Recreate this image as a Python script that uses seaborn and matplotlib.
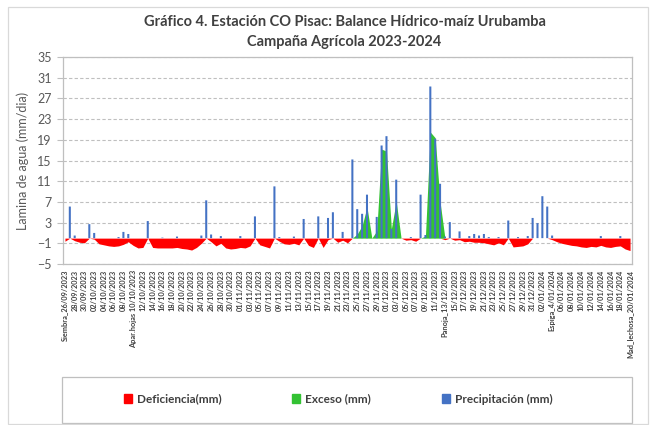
import numpy as np
import pandas as pd
import matplotlib
matplotlib.use("Agg")
import matplotlib.pyplot as plt
import seaborn as sns
from matplotlib.patches import Patch, Rectangle

# daily series 26/09/2023 .. 20/01/2024
dates = pd.date_range("2023-09-26", "2024-01-20", freq="D")

precipitacion = [
    0, 6.1, 0.5, 0, 0, 2.7, 1.0, 0, 0, 0,
    0, 0.2, 1.2, 0.8, 0, 0, 0, 3.3, 0, 0,
    0.1, 0, 0, 0.3, 0, 0, 0, 0, 0.5, 7.3,
    0.7, 0, 0.4, 0, 0, 0, 0.4, 0, 0, 4.2,
    0, 0, 0, 10.0, 0.2, 0, 0, 0.3, 0, 3.7,
    0, 0, 4.2, 0, 3.9, 5.0, 0, 1.2, 0, 15.2,
    5.6, 4.7, 8.4, 0, 4.1, 17.9, 19.7, 1.8, 11.3, 0,
    0, 0.2, 0, 8.4, 0.6, 29.3, 19.2, 10.5, 0.3, 3.1,
    0, 1.3, 0, 0.4, 0.8, 0.5, 0.8, 0.2, 0, 0.2,
    0, 3.4, 0, 0.2, 0, 0.4, 3.9, 2.9, 8.1, 6.1,
    0.5, 0, 0, 0, 0, 0, 0, 0, 0, 0,
    0.4, 0, 0, 0, 0.4, 0, 0,
]

deficiencia = [
    -0.6, 0, -0.5, -0.8, -0.9, 0, -0.2, -1.1, -1.3, -1.5,
    -1.6, -1.5, -1.2, -0.7, -1.4, -1.9, -1.8, 0, -1.8, -1.9,
    -1.9, -1.9, -1.9, -1.8, -2.0, -2.1, -2.3, -1.8, -1.0, 0,
    -0.7, -1.5, -1.0, -1.9, -2.1, -2.0, -1.8, -1.9, -1.5, 0,
    -1.3, -1.6, -1.9, 0, -0.6, -1.1, -1.2, -1.0, -1.3, 0,
    -1.4, -1.8, 0, -1.8, -0.3, 0, -0.8, -0.4, -0.9, 0,
    0, 0, 0, 0, 0, 0, 0, 0, 0, 0,
    -0.4, -0.3, -0.6, 0, 0, 0, 0, 0, -0.3, 0,
    -0.4, -0.3, -0.7, -0.6, -0.8, -0.8, -0.9, -1.1, -1.3, -0.9,
    -1.3, 0, -1.7, -1.6, -1.5, -1.1, 0, 0, 0, 0,
    -0.3, -0.7, -1.0, -1.2, -1.4, -1.5, -1.7, -1.8, -1.6, -1.7,
    -1.4, -1.7, -1.8, -1.6, -1.5, -2.1, -2.4,
]

exceso = [
    0, 0, 0, 0, 0, 0, 0, 0, 0, 0,
    0, 0, 0, 0, 0, 0, 0, 0, 0, 0,
    0, 0, 0, 0, 0, 0, 0, 0, 0, 0,
    0, 0, 0, 0, 0, 0, 0, 0, 0, 0,
    0, 0, 0, 0, 0, 0, 0, 0, 0, 0,
    0, 0, 0, 0, 0, 0, 0, 0, 0, 0,
    0.8, 2.4, 6.0, 0, 1.4, 17.2, 16.8, 1.8, 7.1, 0,
    0, 0, 0, 0, 0.4, 20.5, 19.4, 7.0, 0, 0,
    0, 0, 0, 0, 0, 0, 0, 0, 0, 0,
    0, 0, 0, 0, 0, 0, 0, 0, 0, 0,
    0, 0, 0, 0, 0, 0, 0, 0, 0, 0,
    0, 0, 0, 0, 0, 0, 0,
]

etapas = {
    "2023-09-26": "Siembra_26/09/2023",
    "2023-10-10": "Apar.hojas 10/10/2023",
    "2023-12-13": "Panoja_13/12/2023",
    "2024-01-04": "Espiga_4/01/2024",
    "2024-01-20": "Mad_lechosa_20/01/2024",
}

df = pd.DataFrame({
    "fecha": dates.strftime("%d/%m/%Y"),
    "Precipitacion": precipitacion,
    "Deficiencia": deficiencia,
    "Exceso": exceso,
})
x = np.arange(len(df))

sns.set_style("white")
plt.rcParams["font.family"] = ["Lato", "DejaVu Sans"]

fig = plt.figure(figsize=(6.5, 4.25), dpi=100)
ax = fig.add_axes([63 / 650, 1 - 264 / 425, 569 / 650, 207 / 425])

ax.fill_between(x, 0, df["Deficiencia"], color="#FF0000", lw=0, zorder=2)
ax.fill_between(x, 0, df["Exceso"], color="#33C233", lw=0, zorder=2)
sns.barplot(data=df, x="fecha", y="Precipitacion", color="#4472C4",
            width=0.42, saturation=1, ax=ax, zorder=3,
            edgecolor="none", linewidth=0, snap=False)
for p in ax.patches:
    p.set_zorder(3)

ax.set_ylim(-5, 35)
ax.set_yticks(np.arange(-5, 36, 4))
ax.yaxis.grid(True, linestyle=(0, (3, 2)), color="#BFBFBF", lw=0.8)
ax.set_axisbelow(True)
ax.set_xlim(-0.4, len(df) - 0.6)

tick_pos = x[::2]
tick_lab = []
for d in dates[::2]:
    key = d.strftime("%Y-%m-%d")
    tick_lab.append(etapas.get(key, d.strftime("%d/%m/%Y")))
ax.set_xticks(tick_pos)
ax.set_xticklabels(tick_lab, rotation=90, fontsize=5.3, fontweight="bold",
                   color="#404040")
ax.tick_params(axis="x", length=0, pad=4)
ax.tick_params(axis="y", left=True, length=4, color="#BFBFBF",
               labelsize=9, labelcolor="#595959", pad=4)
ax.set_xlabel("")
ax.set_ylabel("Lamina de agua (mm/dia)", fontsize=9, color="#595959", labelpad=6)
for s in ax.spines.values():
    s.set_color("#BFBFBF")
    s.set_linewidth(0.9)

fig.text(0.53, 1 - 22 / 425, "Gráfico 4. Estación CO Pisac: Balance Hídrico-maíz Urubamba",
         ha="center", va="center", fontsize=10.5, fontweight="bold", color="#404040")
fig.text(0.53, 1 - 42 / 425, "Campaña Agrícola 2023-2024",
         ha="center", va="center", fontsize=10.5, fontweight="bold", color="#404040")

# legend box
fig.patches.append(Rectangle((62 / 650, 1 - 423 / 425), 570 / 650, 46 / 425,
                             transform=fig.transFigure, fill=False,
                             edgecolor="#BFBFBF", lw=0.9))
handles = [Patch(color="#FF0000", label="Deficiencia(mm)"),
           Patch(color="#33C233", label="Exceso (mm)"),
           Patch(color="#4472C4", label="Precipitación (mm)")]
fig.legend(handles=handles, loc="center", bbox_to_anchor=(0.52, 1 - 399 / 425),
           ncol=3, frameon=False, columnspacing=6, handlelength=0.7,
           handleheight=0.7, handletextpad=0.4,
           prop={"weight": "bold", "size": 8.5}, labelcolor="#404040")

# chart area border
fig.patches.append(Rectangle((8 / 650, 1 - 424 / 425), 640 / 650, 417 / 425,
                             transform=fig.transFigure, fill=False,
                             edgecolor="#D9D9D9", lw=0.9))

fig.savefig("out.png", dpi=100)
